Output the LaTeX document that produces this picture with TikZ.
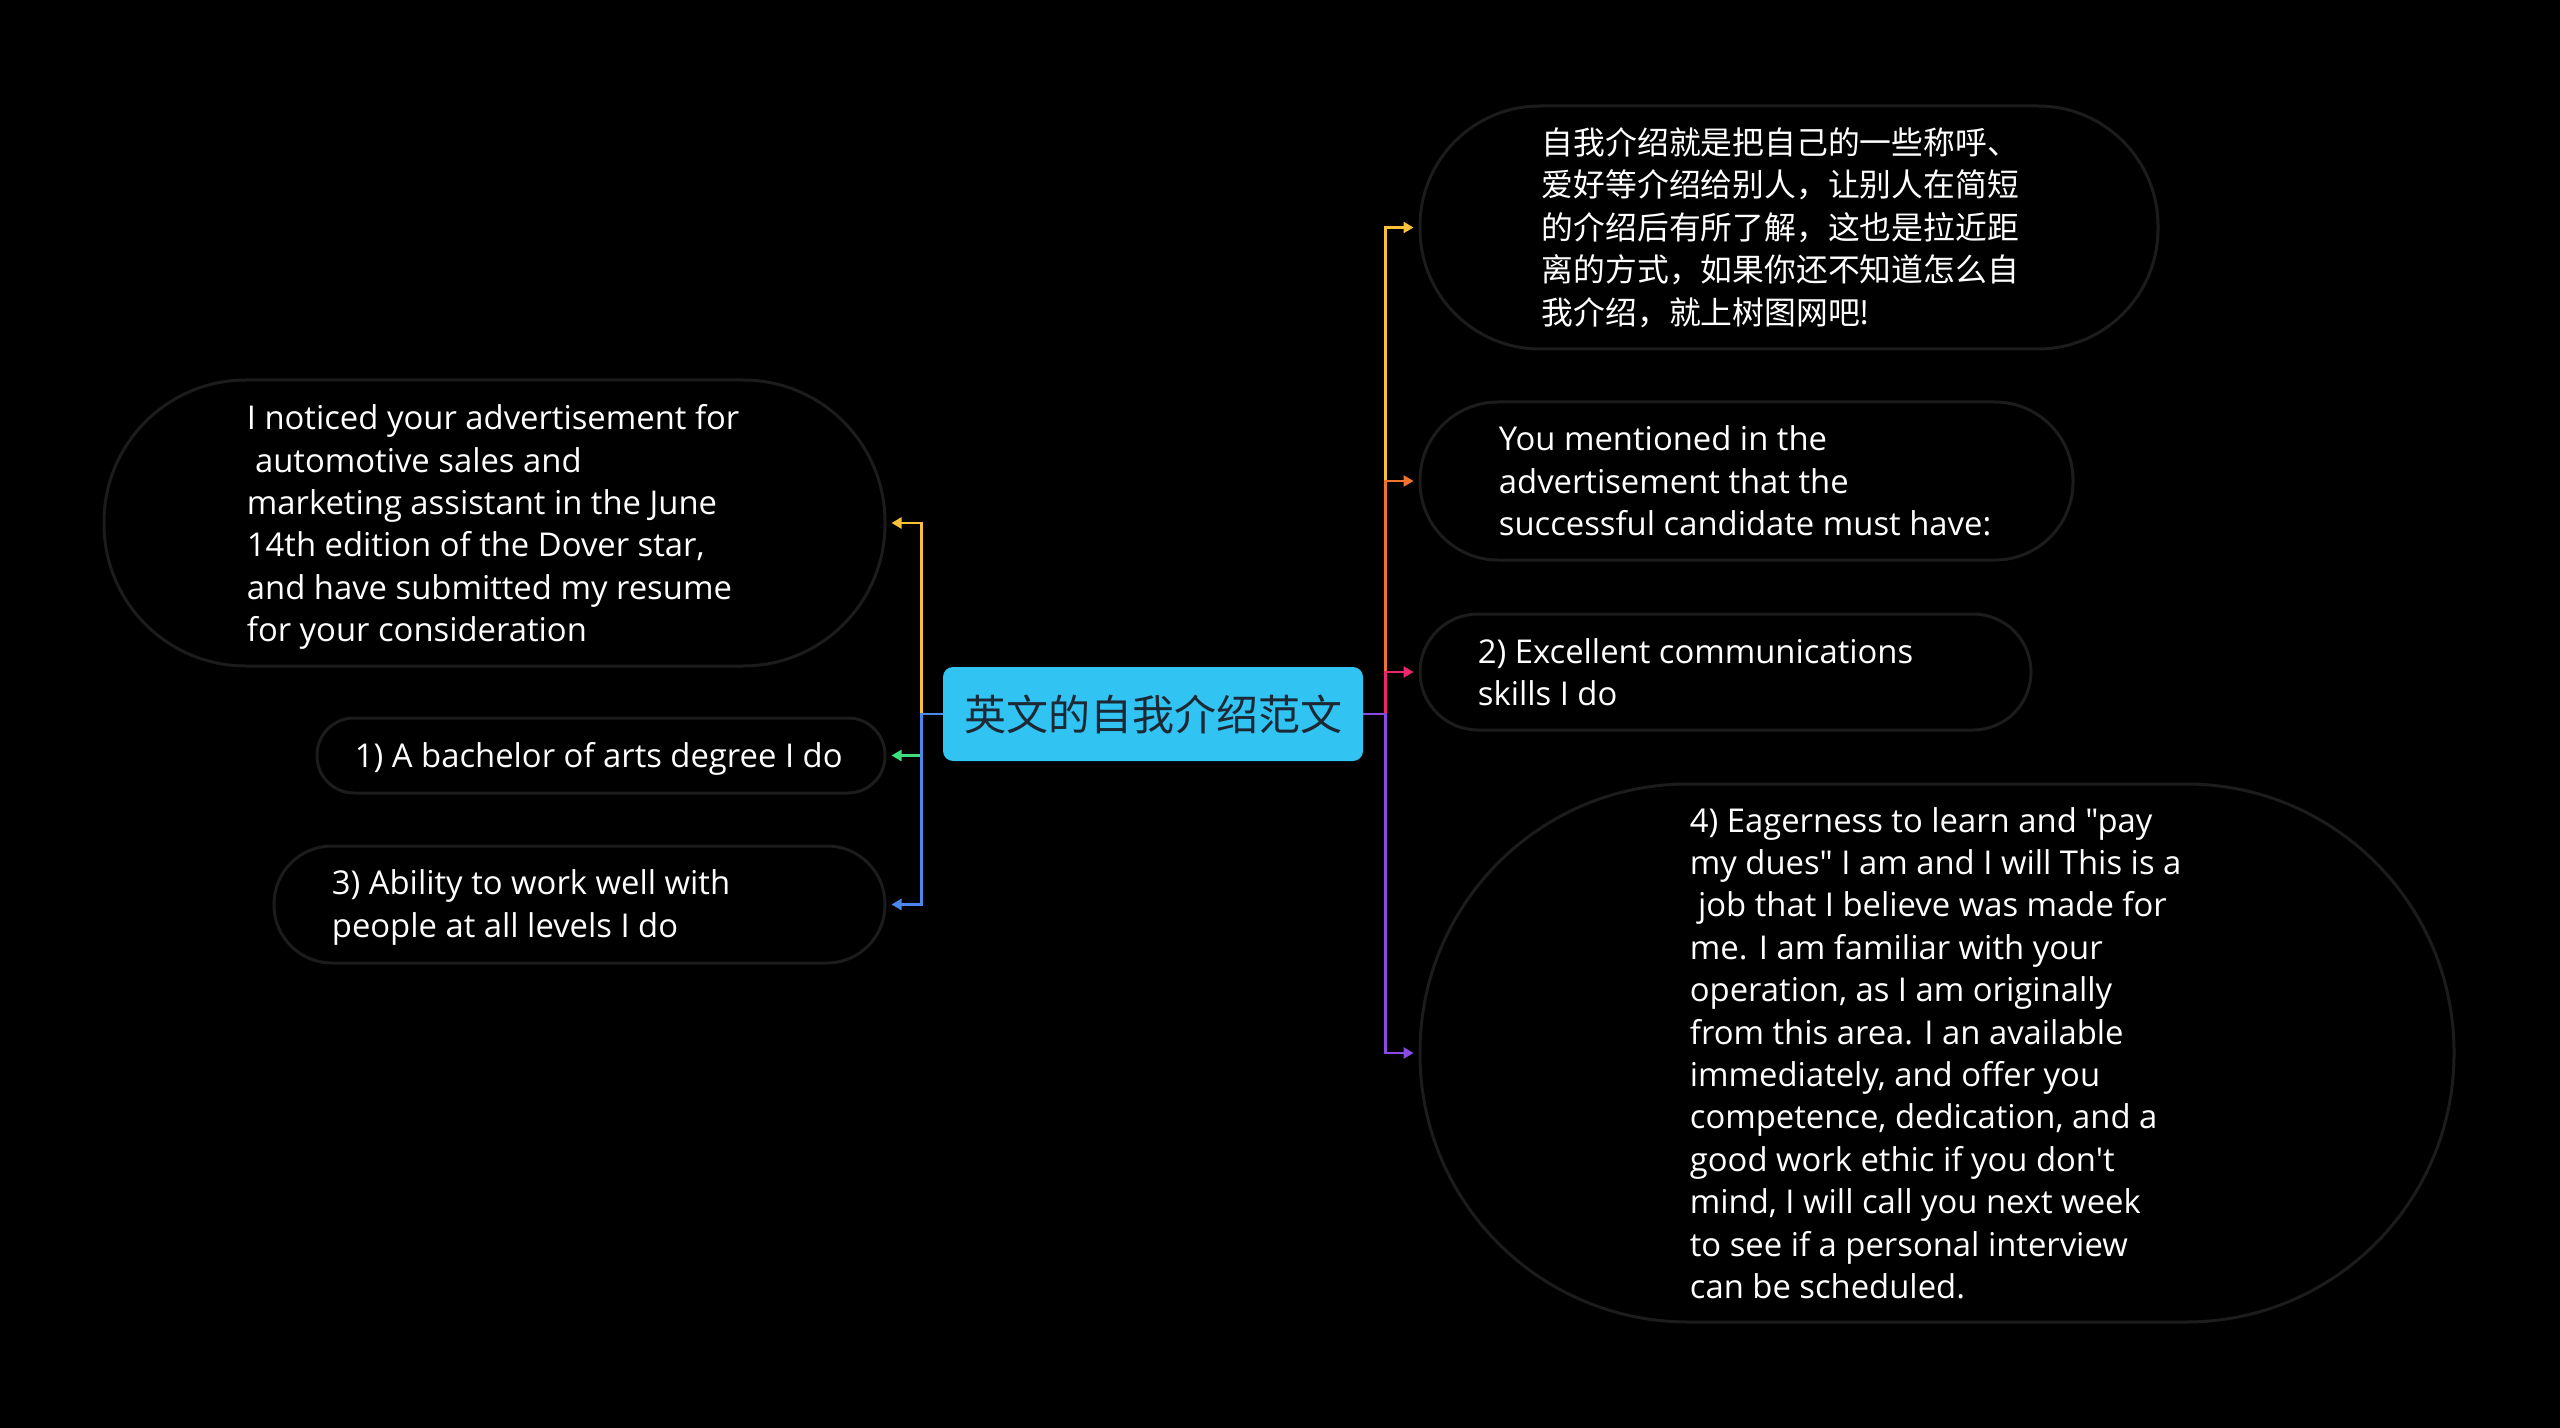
\documentclass[tikz,border=0pt]{standalone}
\usepackage{fontspec}
\setmainfont{Open Sans}[Ligatures=TeXOff]
\newfontfamily\cjk{Noto Sans CJK SC}
\usetikzlibrary{arrows.meta}
\definecolor{nodeborder}{HTML}{1C1C1C}
\definecolor{rootfill}{HTML}{31C3F2}
\definecolor{roottext}{HTML}{1C2833}
\definecolor{cyellow}{HTML}{F7C23A}
\definecolor{cgreen}{HTML}{3FE07C}
\definecolor{cblue}{HTML}{4A88EC}
\definecolor{corange}{HTML}{F2732E}
\definecolor{cpink}{HTML}{EC2670}
\definecolor{cpurple}{HTML}{8A4AE6}
\begin{document}
\begin{tikzpicture}[x=0.5pt,y=-0.5pt,
  leafbox/.style={draw=nodeborder, line width=1.5pt, fill=black, inner sep=0pt},
  leaftext/.style={text=white, align=left, anchor=west, inner sep=0pt,
    font=\fontsize{16.4}{21.2}\selectfont},
  rootbox/.style={fill=rootfill, text=roottext, rounded corners=5pt,
    minimum width=210pt, minimum height=47pt, inner sep=0pt,
    font=\cjk\fontsize{21}{26}\selectfont},
  link/.style={line width=1.4pt, -{Triangle[length=5pt,width=5.5pt]}},
]
\fill[black] (0,0) rectangle (2560,1428);
\useasboundingbox (0,0) rectangle (2560,1428);

\node[rootbox] (root) at (1153,714) {英文的自我介绍范文};

% left side
\node[leafbox, minimum width=390.5pt, minimum height=143pt, rounded corners=71pt] (A) at (494.5,523) {};
\node[leaftext] (At) at ([xshift=72pt,yshift=-2pt]A.west)
  {I noticed your advertisement for\\\hspace*{0.25em}automotive sales and\\marketing assistant in the June\\14th edition of the Dover star,\\and have submitted my resume\\for your consideration};
\node[leafbox, minimum width=284pt, minimum height=37.5pt, rounded corners=18.5pt] (B) at (601,755.5) {};
\node[leaftext] (Bt) at ([xshift=19.5pt,yshift=-1.5pt]B.west) {1) A bachelor of arts degree I do};
\node[leafbox, minimum width=305.5pt, minimum height=58.5pt, rounded corners=29pt] (C) at (579.5,904.5) {};
\node[leaftext] (Ct) at ([xshift=29.5pt,yshift=-1.5pt]C.west) {3) Ability to work well with\\people at all levels I do};

% right side
\node[leafbox, minimum width=369pt, minimum height=121.5pt, rounded corners=60pt] (D) at (1789,227.5) {};
\node[leaftext, font=\cjk\fontsize{15.9}{21.2}\selectfont] (Dt) at ([xshift=61.5pt]D.west)
  {自我介绍就是把自己的一些称呼、\\爱好等介绍给别人，让别人在简短\\的介绍后有所了解，这也是拉近距\\离的方式，如果你还不知道怎么自\\我介绍，就上树图网吧!};
\node[leafbox, minimum width=326.5pt, minimum height=79pt, rounded corners=39pt] (E) at (1746.5,481) {};
\node[leaftext] (Et) at ([xshift=40pt]E.west)
  {You mentioned in the\\advertisement that the\\successful candidate must have:};
\node[leafbox, minimum width=305.5pt, minimum height=58pt, rounded corners=29pt] (F) at (1725.5,672) {};
\node[leaftext] (Ft) at ([xshift=29.5pt]F.west) {2) Excellent communications\\skills I do};
\node[leafbox, minimum width=517pt, minimum height=269pt, rounded corners=134pt] (G) at (1937,1053) {};
\node[leaftext] (Gt) at ([xshift=135.5pt]G.west)
  {4) Eagerness to learn and "pay\\my dues" I am and I will This is a\\\hspace*{0.25em}job that I believe was made for\\me. I am familiar with your\\operation, as I am originally\\from this area. I an available\\immediately, and offer you\\competence, dedication, and a\\good work ethic if you don't\\mind, I will call you next week\\to see if a personal interview\\can be scheduled.};

% connectors
\draw[link, cyellow, shorten >=2.5pt] (root.west) -- ++(-21,0) |- (A.east);
\draw[link, cgreen, shorten >=2.5pt] (root.west) -- ++(-21,0) |- (B.east);
\draw[link, cblue, shorten >=2.5pt] (root.west) -- ++(-21,0) |- (C.east);

\draw[link, cyellow, shorten >=2.5pt] (root.east) -- ++(22,0) |- (D.west);
\draw[link, corange, shorten >=2.5pt] (root.east) -- ++(22,0) |- (E.west);
\draw[link, cpink, shorten >=2.5pt] (root.east) -- ++(22,0) |- (F.west);
\draw[link, cpurple, shorten >=2.5pt] (root.east) -- ++(22,0) |- (G.west);
\end{tikzpicture}
\end{document}
